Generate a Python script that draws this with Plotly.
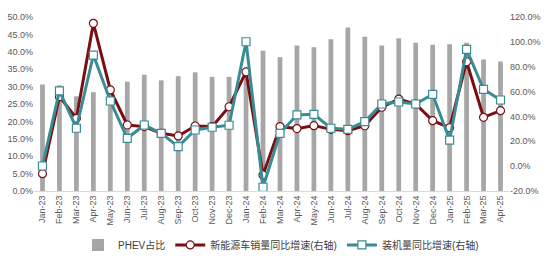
import plotly.graph_objects as go

months = ["Jan-23","Feb-23","Mar-23","Apr-23","May-23","Jun-23","Jul-23","Aug-23","Sep-23","Oct-23",
          "Nov-23","Dec-23","Jan-24","Feb-24","Mar-24","Apr-24","May-24","Jun-24","Jul-24","Aug-24",
          "Sep-24","Oct-24","Nov-24","Dec-24","Jan-25","Feb-25","Mar-25","Apr-25"]
phev_share = [30.6, 30.4, 27.2, 28.4, 28.5, 31.4, 33.4, 31.8, 33.0, 34.1,
              32.8, 32.8, 33.0, 40.3, 38.4, 41.8, 41.3, 43.6, 47.0, 44.3,
              41.8, 43.9, 42.6, 42.0, 42.2, 42.6, 37.8, 37.2]
nev_sales_yoy = [-6.1, 55.9, 38.5, 114.9, 61.3, 33.1, 31.8, 26.4, 24.3, 32.3,
                 31.8, 47.8, 75.8, -7.1, 31.8, 30.2, 32.6, 29.6, 28.5, 32.5,
                 47.4, 54.0, 50.0, 36.6, 30.9, 84.0, 39.3, 44.6]
install_yoy = [0.1, 60.5, 30.5, 89.4, 52.4, 22.4, 33.1, 26.4, 15.7, 29.1,
               31.3, 32.9, 100.1, -17.0, 26.4, 41.2, 41.7, 30.5, 29.6, 35.8,
               50.0, 51.6, 50.0, 57.8, 21.0, 94.0, 61.8, 53.2]

left_ticks = [i * 5 for i in range(11)]
right_ticks = [-20 + i * 20 for i in range(8)]

font_family = "Liberation Sans, Arial, Noto Sans CJK SC, sans-serif"
tick_color = "#595959"

fig = go.Figure()
fig.add_trace(go.Bar(x=months, y=phev_share, name="PHEV占比",
                     marker=dict(color="#A6A6A6", line=dict(width=0)), width=0.28))
fig.add_trace(go.Scatter(x=months, y=nev_sales_yoy, name="新能源车销量同比增速(右轴)", yaxis="y2",
                         mode="lines+markers",
                         line=dict(color="#7A0E12", width=3),
                         marker=dict(symbol="circle", size=8, color="white",
                                     line=dict(color="#7A0E12", width=1.2))))
fig.add_trace(go.Scatter(x=months, y=install_yoy, name="装机量同比增速(右轴)", yaxis="y2",
                         mode="lines+markers",
                         line=dict(color="#3A8C94", width=3),
                         marker=dict(symbol="square", size=8, color="white",
                                     line=dict(color="#3A8C94", width=1.2))))

fig.update_layout(
    width=550, height=257,
    margin=dict(l=34, r=41, t=17, b=66, autoexpand=False),
    paper_bgcolor="white", plot_bgcolor="white",
    font=dict(family=font_family, size=9, color=tick_color),
    showlegend=True,
    legend=dict(orientation="h", x=0.52, xanchor="center",
                yref="container", y=0.047, yanchor="middle",
                font=dict(size=10, color="#404040"), itemwidth=30, tracegroupgap=0),
    xaxis=dict(type="category", tickangle=-90, showgrid=False, ticks="",
               showline=True, linecolor="#D9D9D9", linewidth=1,
               tickfont=dict(size=9, color=tick_color), range=[-0.5, 27.5]),
    yaxis=dict(range=[0, 50], tickvals=left_ticks,
               ticktext=[f"{v:.1f}%" for v in left_ticks],
               showgrid=False, zeroline=False, ticks="", showline=False,
               tickfont=dict(size=9, color=tick_color)),
    yaxis2=dict(range=[-20, 120], tickvals=right_ticks,
                ticktext=[f"{v:.1f}%" for v in right_ticks],
                overlaying="y", side="right",
                showgrid=False, zeroline=False, ticks="", showline=False,
                tickfont=dict(size=9, color=tick_color)),
    bargap=0.7,
)

fig.write_html("out.html")
